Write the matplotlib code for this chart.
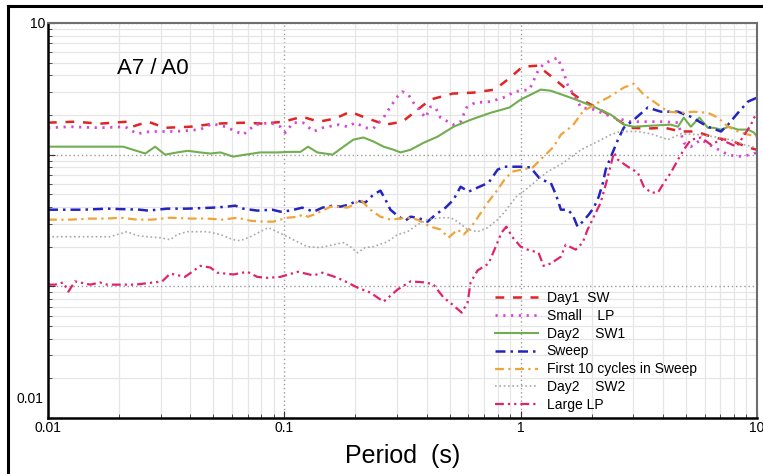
import matplotlib
matplotlib.use("Agg")
import matplotlib.pyplot as plt
from matplotlib.lines import Line2D
from matplotlib.ticker import LogLocator, NullFormatter

plt.rcParams['font.family'] = ['Liberation Sans', 'DejaVu Sans']

# --- data (period in s, spectral ratio A7/A0) ---
day1_sw_T = [0.010, 0.013, 0.0166, 0.0216, 0.0227, 0.0265, 0.0313, 0.040, 0.051, 0.0683, 0.0815,
             0.099, 0.119, 0.14, 0.164, 0.19, 0.22, 0.268, 0.316, 0.362, 0.415, 0.515, 0.632, 0.776,
             0.88, 1.02, 1.18, 1.37, 1.57, 1.80, 2.10, 2.48, 2.90, 3.45, 4.07, 4.76, 5.5, 6.57, 7.76,
             9.25, 10.0]
day1_sw = [1.75, 1.78, 1.72, 1.78, 1.63, 1.78, 1.60, 1.63, 1.72, 1.75, 1.72,
           1.78, 1.94, 1.78, 1.88, 2.12, 1.91, 1.69, 1.78, 2.16, 2.62, 2.91, 2.96, 3.12,
           3.71, 4.66, 4.74, 3.84, 3.12, 2.62, 2.28, 1.91, 1.60, 1.58, 1.60, 1.50, 1.50, 1.35, 1.28,
           1.13, 1.09]

small_lp_T = [0.010, 0.0124, 0.0166, 0.0212, 0.0238, 0.0271, 0.0345, 0.044, 0.0495, 0.0563, 0.067,
              0.0753, 0.0873, 0.0962, 0.101, 0.109, 0.12, 0.133, 0.145, 0.17, 0.185, 0.20, 0.22,
              0.238, 0.263, 0.281, 0.301, 0.316, 0.335, 0.352, 0.377, 0.396, 0.415, 0.436, 0.458,
              0.52, 0.557, 0.59, 0.64, 0.746, 0.87, 0.94, 1.09, 1.18, 1.25, 1.435, 1.52, 1.58, 1.80,
              2.04, 2.48, 2.93, 3.45, 4.04, 4.63, 4.9, 5.25, 5.8, 6.5, 7.54, 8.3, 9.43, 10.0]
small_lp = [1.60, 1.63, 1.60, 1.63, 1.44, 1.50, 1.50, 1.55, 1.72, 1.63, 1.42,
            1.69, 1.75, 1.63, 1.47, 1.75, 1.75, 1.50, 1.60, 1.69, 1.63, 1.75, 1.60,
            1.58, 1.91, 2.31, 2.76, 3.01, 2.85, 2.48, 2.12, 1.91, 2.31, 2.28, 1.91,
            1.69, 1.78, 2.28, 2.48, 2.53, 2.76, 3.01, 3.12, 4.27, 4.9, 5.45, 4.20, 3.40, 2.28,
            2.20, 1.91, 1.78, 1.78, 1.78, 1.75, 1.23, 1.15, 1.30, 1.15, 1.0, 0.966, 1.0, 1.04]

day2_sw1_T = [0.010, 0.0116, 0.0208, 0.0258, 0.0284, 0.0313, 0.0352, 0.039, 0.044, 0.0486, 0.0536,
              0.0608, 0.0683, 0.079, 0.0934, 0.106, 0.117, 0.126, 0.138, 0.16, 0.178, 0.196, 0.216,
              0.238, 0.263, 0.29, 0.31, 0.342, 0.388, 0.445, 0.52, 0.614, 0.746, 0.896, 1.0, 1.10,
              1.215, 1.34, 1.58, 1.80, 2.04, 2.41, 2.73, 3.01, 3.56, 4.32, 4.63, 4.9, 5.25, 5.7,
              6.2, 6.57, 7.04, 7.6, 8.31, 9.16, 9.71, 10.0]
day2_sw1 = [1.15, 1.15, 1.15, 1.02, 1.15, 1.00, 1.04, 1.07, 1.04, 1.02, 1.04,
            0.966, 1.0, 1.04, 1.04, 1.05, 1.05, 1.15, 1.04, 1.0, 1.15, 1.30, 1.35,
            1.26, 1.15, 1.09, 1.04, 1.09, 1.23, 1.37, 1.63, 1.84, 2.08, 2.28, 2.62, 2.85,
            3.12, 3.06, 2.76, 2.53, 2.31, 2.01, 1.69, 1.63, 1.66, 1.69, 1.63, 1.91, 1.63, 1.91,
            1.60, 1.60, 1.55, 1.63, 1.55, 1.55, 1.47, 1.37]

sweep_T = [0.010, 0.0141, 0.0178, 0.0245, 0.0265, 0.0319, 0.0388, 0.050, 0.0573, 0.062, 0.067,
           0.0768, 0.0889, 0.0962, 0.106, 0.119, 0.133, 0.145, 0.16, 0.173, 0.187, 0.204, 0.22,
           0.238, 0.255, 0.268, 0.281, 0.301, 0.325, 0.342, 0.366, 0.404, 0.436, 0.481, 0.52,
           0.557, 0.602, 0.657, 0.732, 0.799, 0.854, 1.0, 1.10, 1.215, 1.34, 1.41, 1.48, 1.58,
           1.66, 1.74, 1.83, 1.94, 2.04, 2.14, 2.23, 2.29, 2.41, 2.58, 2.73, 3.01, 3.45, 3.92,
           4.63, 5.25, 6.2, 7.04, 7.54, 8.31, 9.16, 10.0]
sweep = [0.382, 0.382, 0.389, 0.382, 0.376, 0.389, 0.389, 0.396, 0.403, 0.41, 0.389,
         0.376, 0.382, 0.369, 0.376, 0.396, 0.369, 0.396, 0.41, 0.403, 0.417, 0.447, 0.432,
         0.497, 0.533, 0.455, 0.382, 0.344, 0.315, 0.338, 0.332, 0.31, 0.35, 0.396, 0.455,
         0.571, 0.524, 0.562, 0.613, 0.77, 0.81, 0.81, 0.80, 0.646, 0.613, 0.497, 0.382, 0.382,
         0.35, 0.284, 0.31, 0.35, 0.396, 0.48, 0.613, 0.77, 0.966, 1.30, 1.60, 1.84, 2.28, 2.12,
         2.12, 1.94, 1.63, 1.50, 1.69, 2.08, 2.53, 2.71]

first10_T = [0.010, 0.0124, 0.0151, 0.0178, 0.0202, 0.0238, 0.0276, 0.0329, 0.040, 0.0476, 0.0546,
             0.0632, 0.0718, 0.0815, 0.0898, 0.103, 0.115, 0.119, 0.126, 0.133, 0.142, 0.157,
             0.168, 0.185, 0.196, 0.21, 0.231, 0.255, 0.281, 0.332, 0.366, 0.415, 0.458, 0.495,
             0.541, 0.573, 0.614, 0.657, 0.725, 0.799, 0.854, 0.92, 1.124, 1.25, 1.38, 1.48, 1.66,
             1.83, 2.12, 2.34, 2.53, 2.73, 3.01, 3.32, 3.66, 4.2, 4.76, 5.41, 6.2, 6.84, 7.54,
             8.31, 9.16, 10.0]
first10 = [0.321, 0.321, 0.327, 0.327, 0.332, 0.321, 0.321, 0.332, 0.327, 0.327, 0.321,
           0.332, 0.315, 0.31, 0.31, 0.332, 0.338, 0.35, 0.338, 0.35, 0.369, 0.403,
           0.403, 0.396, 0.417, 0.455, 0.382, 0.338, 0.321, 0.332, 0.321, 0.284, 0.27, 0.234,
           0.27, 0.247, 0.279, 0.332, 0.432, 0.542, 0.646, 0.743, 0.80, 0.966, 1.15, 1.42, 1.66,
           2.12, 2.48, 2.71, 2.96, 3.23, 3.46, 2.85, 2.53, 2.12, 2.08, 2.12, 2.08, 1.91, 1.63,
           1.50, 1.42, 1.37]

day2_sw2_T = [0.010, 0.0137, 0.0183, 0.0196, 0.0216, 0.0238, 0.0263, 0.0298, 0.0329, 0.0352, 0.0388,
              0.0472, 0.0536, 0.0608, 0.0651, 0.0718, 0.079, 0.0855, 0.099, 0.109, 0.125, 0.142,
              0.161, 0.178, 0.19, 0.204, 0.22, 0.238, 0.273, 0.301, 0.332, 0.366, 0.404, 0.458,
              0.505, 0.541, 0.596, 0.657, 0.725, 0.799, 0.87, 0.958, 1.05, 1.18, 1.30, 1.52, 1.80,
              2.12, 2.41, 2.65, 3.13, 3.56, 4.2, 4.76, 5.62, 6.57, 7.76, 8.81, 10.0]
day2_sw2 = [0.238, 0.238, 0.238, 0.247, 0.26, 0.243, 0.238, 0.234, 0.226, 0.247, 0.26,
            0.26, 0.247, 0.226, 0.222, 0.238, 0.26, 0.279, 0.247, 0.226, 0.20, 0.197,
            0.207, 0.215, 0.20, 0.18, 0.197, 0.20, 0.218, 0.247, 0.26, 0.294, 0.321, 0.332,
            0.332, 0.31, 0.27, 0.26, 0.279, 0.321, 0.382, 0.48, 0.542, 0.646, 0.743, 0.87, 1.09,
            1.26, 1.42, 1.50, 1.50, 1.44, 1.30, 1.44, 1.42, 1.37, 1.30, 1.19, 1.13]

large_lp_T = [0.010, 0.0107, 0.0116, 0.0122, 0.013, 0.0151, 0.0166, 0.0178, 0.0234, 0.0304, 0.0329,
              0.038, 0.0441, 0.0486, 0.052, 0.0608, 0.0697, 0.0768, 0.0847, 0.0962, 0.114, 0.133,
              0.145, 0.168, 0.185, 0.204, 0.231, 0.263, 0.301, 0.342, 0.396, 0.428, 0.472, 0.515,
              0.563, 0.596, 0.614, 0.657, 0.732, 0.784, 0.83, 0.87, 0.92, 1.0, 1.07, 1.19, 1.25,
              1.34, 1.48, 1.55, 1.71, 1.83, 1.92, 2.04, 2.18, 2.29, 2.41, 2.48, 2.58, 2.84, 3.13,
              3.32, 3.56, 3.81, 4.04, 4.32, 4.63, 4.9, 5.25, 5.8, 6.38, 7.04, 8.2, 9.43, 10.0]
large_lp = [0.103, 0.103, 0.107, 0.0911, 0.109, 0.103, 0.107, 0.103, 0.103, 0.109, 0.125,
            0.118, 0.143, 0.139, 0.127, 0.123, 0.129, 0.118, 0.116, 0.118, 0.129, 0.121,
            0.127, 0.116, 0.107, 0.0977, 0.0896, 0.0765, 0.0944, 0.109, 0.107, 0.103, 0.082, 0.0726,
            0.0631, 0.0752, 0.107, 0.132, 0.149, 0.20, 0.256, 0.284, 0.238, 0.20, 0.19, 0.18, 0.143,
            0.149, 0.168, 0.207, 0.19, 0.215, 0.27, 0.338, 0.432, 0.592, 0.84, 1.04, 0.916, 0.81, 0.73,
            0.571, 0.515, 0.515, 0.613, 0.73, 0.916, 1.09, 1.30, 1.35, 1.19, 1.30, 1.15, 1.69, 2.12]

x_ticks = [0.01, 0.1, 1, 10]
x_tick_labels = ['0.01', '0.1', '1', '10']

# label, periods, values, colour, linewidth, dash pattern
series = [
    ('Day1  SW', day1_sw_T, day1_sw, '#e02424', 1.8, (3.5, 3.5)),
    ('Small    LP', small_lp_T, small_lp, '#d548d5', 2.0, (0.8, 2.0)),
    ('Day2    SW1', day2_sw1_T, day2_sw1, '#72ad52', 1.5, None),
    ('Sweep', sweep_T, sweep, '#2424c0', 1.8, (4, 2, 1, 2)),
    ('First 10 cycles in Sweep', first10_T, first10, '#f0a338', 1.6, (4, 2, 1, 2)),
    ('Day2    SW2', day2_sw2_T, day2_sw2, '#a8a8a8', 1.2, (1, 1.6)),
    ('Large LP', large_lp_T, large_lp, '#e0246c', 1.6, (4, 1.8, 1, 1.8, 1, 1.8)),
]


def dibujar():
    fig = plt.figure(figsize=(7.63, 4.74), dpi=100)
    ax = fig.add_axes([48 / 763, 56 / 474, 709 / 763, 395 / 474])

    for label, T, vals, color, lw, dashes in series:
        if dashes is None:
            ax.plot(T, vals, color=color, lw=lw, label=label)
        else:
            ax.plot(T, vals, color=color, lw=lw, dashes=dashes, label=label)

    ax.set_xscale('log')
    ax.set_yscale('log')
    ax.set_xlim(0.01, 10)
    ax.set_ylim(0.01, 10)

    # grid: light minor lines, dotted decade lines
    ax.xaxis.set_minor_locator(LogLocator(base=10, subs=range(2, 10)))
    ax.yaxis.set_minor_locator(LogLocator(base=10, subs=range(2, 10)))
    ax.xaxis.set_minor_formatter(NullFormatter())
    ax.yaxis.set_minor_formatter(NullFormatter())
    ax.grid(True, which='minor', color='#e6e6e6', lw=0.9, ls='-')
    ax.grid(True, which='major', color='#9a9a9a', lw=1.0, ls=(0, (1, 2)))
    ax.set_axisbelow(True)

    ax.set_xticks(x_ticks)
    ax.set_xticklabels(x_tick_labels)
    ax.set_yticks([0.01, 0.1, 1, 10])
    ax.set_yticklabels(['', '', '', '10'])
    ax.tick_params(which='both', direction='in', colors='#333333', labelcolor='black',
                   labelsize=10, pad=2)
    ax.tick_params(which='major', length=5)
    ax.tick_params(which='minor', length=3)
    ax.text(-0.007, 0.048, '0.01', transform=ax.transAxes, ha='right', va='center', fontsize=10)

    for s in ['left', 'bottom']:
        ax.spines[s].set_color('black')
        ax.spines[s].set_linewidth(1.8)
    for s in ['top', 'right']:
        ax.spines[s].set_color('#6e6e6e')
        ax.spines[s].set_linewidth(1.5)

    ax.set_xlabel('Period  (s)', fontsize=18, labelpad=7)
    ax.text(0.148, 0.886, 'A7 / A0', transform=ax.transAxes, ha='center', va='center', fontsize=16)

    ax.legend(loc='upper left', bbox_to_anchor=(0.63, 0.322), frameon=False, fontsize=10,
              handlelength=3.1, handletextpad=0.65, labelspacing=0.28, borderpad=0,
              borderaxespad=0)

    # black frame around the picture (left and top edges visible)
    fig.add_artist(Line2D([7.5 / 763, 7.5 / 763], [0, 1 - 5.5 / 474], transform=fig.transFigure,
                          color='black', lw=2.2))
    fig.add_artist(Line2D([7.5 / 763, 1], [1 - 5.5 / 474, 1 - 5.5 / 474], transform=fig.transFigure,
                          color='black', lw=2.2))

    fig.savefig('out.png', dpi=100)
    plt.close(fig)


if __name__ == "__main__":
    dibujar()
